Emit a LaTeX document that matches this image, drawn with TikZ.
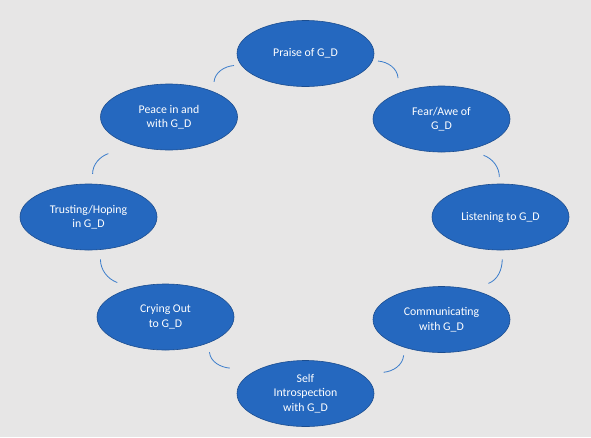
\documentclass[tikz,border=0pt]{standalone}
\usepackage{fontspec}
\setmainfont{Carlito}
\usepackage{tikz}
\usetikzlibrary{shapes.geometric}
\definecolor{cyblue}{HTML}{2568BF}
\definecolor{cyedge}{HTML}{1B4D8F}
\definecolor{cyarc}{HTML}{3B7DCB}
\definecolor{cybg}{HTML}{E7E6E6}

\begin{document}
\begin{tikzpicture}[x=1pt, y=1pt,
  font=\fontsize{11.8}{14.6}\selectfont,
  stage/.style={ellipse, draw=cyedge, line width=0.6pt, fill=cyblue,
                text=white, align=center, minimum width=137pt,
                minimum height=66pt, inner sep=0pt},
  link/.style={draw=cyarc, line width=0.8pt}]

% ---------------- background ----------------
\fill[cybg] (0,0) rectangle (591,-437);
\useasboundingbox (0,0) rectangle (591,-437);

% ---------------- stages of the cycle ----------------
\node[stage] (praise) at (305.5, -53.5) {Praise of G\_D};
\node[stage] (fear)   at (441.5,-119.0) {Fear/Awe of\\G\_D};
\node[stage] (listen) at (500.5,-217.0) {Listening to G\_D};
\node[stage] (comm)   at (441.5,-319.5) {Communicating\\with G\_D};
\node[stage] (self)   at (305.5,-393.5) {Self\\Introspection\\with G\_D};
\node[stage] (cry)    at (165.5,-317.0) {Crying Out\\to G\_D};
\node[stage] (trust)  at ( 88.5,-217.0) {Trusting/Hoping\\in G\_D};
\node[stage] (peace)  at (169.0,-117.0) {Peace in and\\with G\_D};

% short arcs between neighbours, clockwise
\foreach \a/\p/\b/\q/\o/\i/\lo/\li/\s/\e in {
    praise/-6.6/fear/148.1/-5/95/0.938/1.510/5.3pt/14.7pt,
    fear/-49/listen/92.1/-20/90/1.444/0.918/16.3pt/6.7pt,
    listen/-87.9/comm/45.7/-90/20/0.982/1.439/9pt/18pt,
    comm/-143.6/self/19.5/-95/5/0.902/1.614/7.9pt/22.1pt,
    self/155.1/cry/-31.9/175/-85/1.666/0.889/26.3pt/9.3pt,
    cry/139.9/trust/-70.5/160/-90/1.350/1.033/15.7pt/9.5pt,
    trust/83.4/peace/-143.3/90/-160/0.892/1.589/9.8pt/25pt,
    peace/30.9/praise/-170.4/85/-175/1.285/1.105/9.7pt/6.9pt}{
  \draw[link, shorten <=\s, shorten >=\e]
    (\a.\p) to[out=\o, in=\i, out looseness=\lo, in looseness=\li] (\b.\q);}
\end{tikzpicture}
\end{document}
